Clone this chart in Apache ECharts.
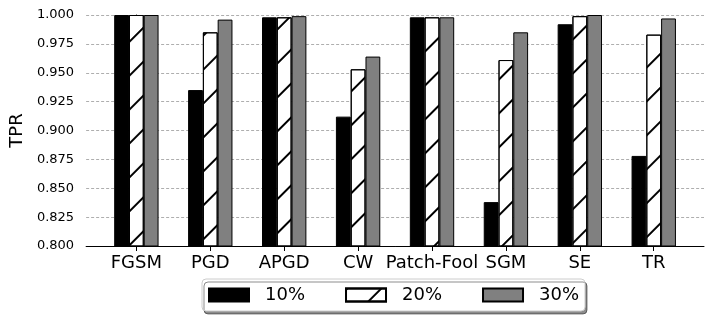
<!DOCTYPE html>
<html>
<head>
<meta charset="utf-8">
<script src="https://cdn.jsdelivr.net/npm/echarts@6/dist/echarts.min.js"></script>
<style>
  html, body { margin: 0; padding: 0; background: #fff; }
  #chart { width: 713px; height: 323px; }
</style>
</head>
<body>
<div id="chart"></div>
<script>
var categories = ['FGSM', 'PGD', 'APGD', 'CW', 'Patch-Fool', 'SGM', 'SE', 'TR']
var seriesNames = ['10%', '20%', '30%']
var tpr10 = [1.000, 0.935, 0.998, 0.912, 0.998, 0.838, 0.992, 0.878]
var tpr20 = [1.000, 0.985, 0.998, 0.953, 0.998, 0.961, 0.999, 0.983]
var tpr30 = [1.000, 0.996, 0.999, 0.964, 0.998, 0.985, 1.000, 0.997]
var yTicks = [0.800, 0.825, 0.850, 0.875, 0.900, 0.925, 0.950, 0.975, 1.000]

var font = 'DejaVu Sans'
var tickPos = categories.map(function (c, i) { return i })

// bars sit at i-0.2, i, i+0.2 like the matplotlib grouped bars
function toPoints(values, shift) {
  return values.map(function (v, i) { return [i + shift, v] })
}

var chart = echarts.init(document.getElementById('chart'))

var option = {
  animation: false,
  textStyle: { fontFamily: font },
  grid: {
    left: 84,
    right: 9,
    top: 15,
    bottom: 77
  },
  legend: {
    left: 202,
    top: 279,
    padding: [7, 6, 7, 6],
    itemWidth: 40,
    itemHeight: 13,
    itemGap: 40,
    icon: 'rect',
    backgroundColor: '#fff',
    borderColor: '#cccccc',
    borderWidth: 1,
    borderRadius: 4,
    shadowColor: 'rgba(0,0,0,0.45)',
    shadowOffsetX: 2,
    shadowOffsetY: 3,
    shadowBlur: 0,
    textStyle: {
      fontFamily: font,
      fontSize: 18,
      color: '#000',
      padding: [0, 0, 0, 11]
    },
    data: seriesNames
  },
  xAxis: {
    type: 'value',
    min: -0.68,
    max: 7.68,
    splitLine: { show: false },
    axisLine: { show: true, lineStyle: { color: '#000', width: 1 } },
    axisTick: {
      show: true,
      length: 5,
      customValues: tickPos,
      lineStyle: { color: '#000' }
    },
    axisLabel: {
      customValues: tickPos,
      margin: 8,
      fontSize: 18,
      color: '#000',
      fontFamily: font,
      formatter: function (v) { return categories[Math.round(v)] }
    }
  },
  yAxis: {
    type: 'value',
    min: 0.8,
    max: 1.0,
    interval: 0.025,
    name: 'TPR',
    nameLocation: 'middle',
    nameRotate: 90,
    nameGap: 57,
    nameTextStyle: { fontSize: 18, color: '#000', fontFamily: font },
    axisLine: { show: true, lineStyle: { color: '#000', width: 1 } },
    axisTick: { show: true, length: 5, lineStyle: { color: '#000' } },
    axisLabel: {
      margin: 12,
      fontSize: 13,
      color: '#000',
      fontFamily: font,
      formatter: function (v) { return v.toFixed(3) }
    },
    splitLine: {
      show: true,
      lineStyle: { color: '#999', width: 0.8, type: [3, 2] }
    }
  },
  series: [
    {
      name: seriesNames[0],
      type: 'bar',
      barWidth: 14.8,
      barGap: '-100%',
      data: toPoints(tpr10, -0.2),
      itemStyle: { color: '#000', borderColor: '#000', borderWidth: 1 }
    },
    {
      name: seriesNames[1],
      type: 'bar',
      barWidth: 14.8,
      barGap: '-100%',
      data: toPoints(tpr20, 0),
      itemStyle: {
        color: '#fff',
        borderColor: '#000',
        borderWidth: 1,
        decal: {
          symbol: 'rect',
          symbolSize: 1,
          color: '#000',
          dashArrayX: [1, 0],
          dashArrayY: [1.2, 22],
          rotation: -Math.PI / 4
        }
      }
    },
    {
      name: seriesNames[2],
      type: 'bar',
      barWidth: 14.8,
      barGap: '-100%',
      data: toPoints(tpr30, 0.2),
      itemStyle: { color: '#808080', borderColor: '#000', borderWidth: 1 }
    }
  ]
}

chart.setOption(option)
</script>
</body>
</html>
